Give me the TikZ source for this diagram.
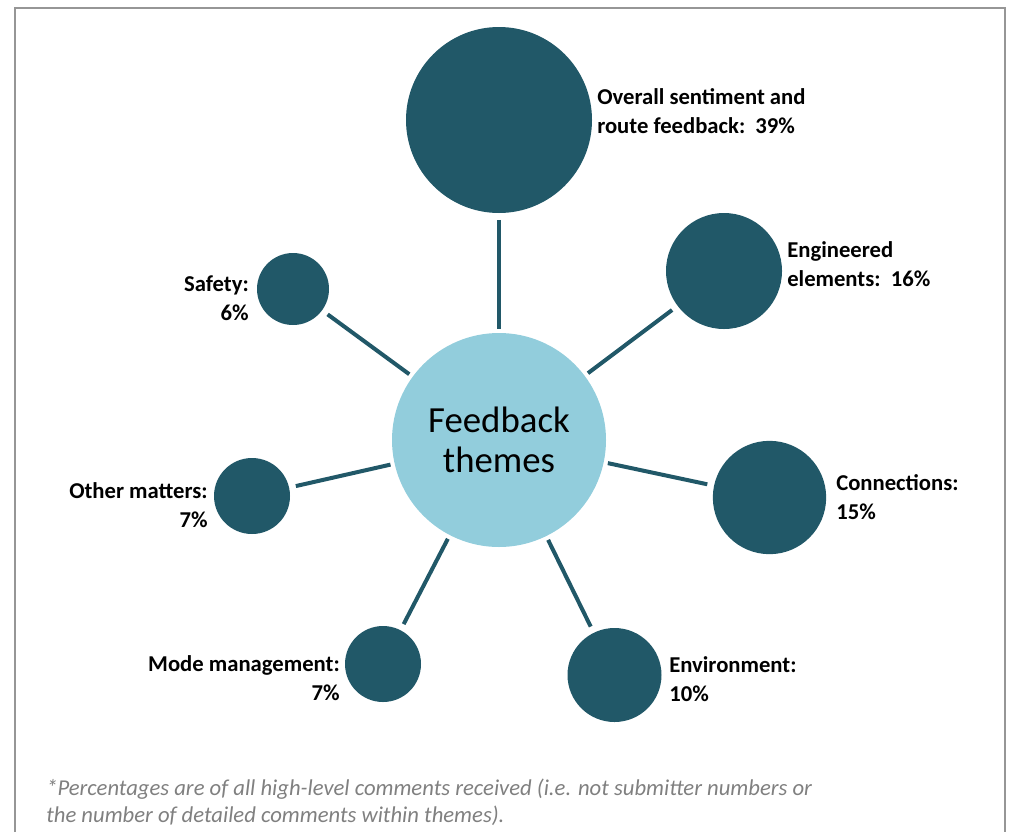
\documentclass[tikz,border=0pt]{standalone}
\usepackage{fontspec}
\setmainfont{Carlito}
\definecolor{themeteal}{RGB}{33,88,104}
\definecolor{hubblue}{RGB}{146,205,220}
\definecolor{framegray}{RGB}{150,150,150}
\definecolor{notegray}{RGB}{128,128,128}
\begin{document}
\begin{tikzpicture}[x=0.75pt, y=-0.75pt,
	theme/.style={shape=circle, fill=themeteal, inner sep=0pt},
	themetext/.style={align=left, inner sep=0pt, font=\fontsize{17}{21.75}\selectfont\bfseries},
	themetextr/.style={themetext, align=right},
	spoke/.style={draw=themeteal, line width=3pt, shorten <=5pt, shorten >=3pt}]
	% Frame, circles, texts and spokes:
	\useasboundingbox (0, 0) rectangle (1009, 832);
	\draw[framegray, line width=1.5pt] (15, 832) -- (15, 8) -- (1005, 8) -- (1005, 832);
	\node[shape=circle, fill=hubblue, minimum size=160.5pt, inner sep=0pt, align=center, font=\fontsize{27.6}{30}\selectfont] (hub) at (499, 440){Feedback\\themes};
	\node[theme, minimum size=139.5pt] (overall) at (499, 120){};
	\node[theme, minimum size=87pt] (engineered) at (724, 271){};
	\node[theme, minimum size=54pt] (safety) at (293, 289){};
	\node[theme, minimum size=57pt] (other) at (252, 496){};
	\node[theme, minimum size=85pt] (connections) at (769.5, 497.5){};
	\node[theme, minimum size=70.5pt] (environment) at (614.5, 675){};
	\node[theme, minimum size=57pt] (mode) at (383, 664){};
	\node[themetext, anchor=west] (overalltext) at (597, 111.5){Overall sentiment and\\route feedback:\ \ 39\%};
	\node[themetext, anchor=west] (engineeredtext) at (787, 264){Engineered\\elements:\ \ 16\%};
	\node[themetextr, anchor=east] (safetytext) at (249, 298.5){Safety:\\6\%};
	\node[themetextr, anchor=east] (othertext) at (208, 505.5){Other matters:\\7\%};
	\node[themetext, anchor=west] (connectionstext) at (836, 497){Connections:\\15\%};
	\node[themetext, anchor=west] (environmenttext) at (669, 679.5){Environment:\\10\%};
	\node[themetextr, anchor=east] (modetext) at (340, 678){Mode management:\\7\%};
	\node[anchor=west, align=left, inner sep=0pt, text=notegray, font=\fontsize{17}{20.25}\selectfont\itshape] (note) at (46, 802){*Percentages are of all high-level comments received (i.e. not submitter numbers or\\the number of detailed comments within themes).};
	\draw[spoke] (overall) -- (hub);
	\draw[spoke] (engineered) -- (hub);
	\draw[spoke] (safety) -- (hub);
	\draw[spoke] (other) -- (hub);
	\draw[spoke] (connections) -- (hub);
	\draw[spoke] (environment) -- (hub);
	\draw[spoke] (mode) -- (hub);
\end{tikzpicture}
\end{document}
